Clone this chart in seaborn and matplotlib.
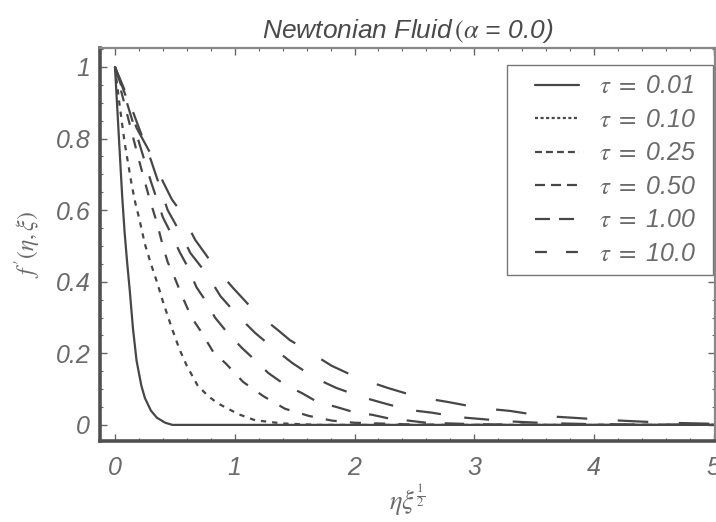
import matplotlib
matplotlib.use("Agg")
import matplotlib.pyplot as plt
from matplotlib.lines import Line2D
from matplotlib.legend_handler import HandlerLine2D
from matplotlib.ticker import MultipleLocator
import seaborn as sns

#%% data: f'(eta, xi) against eta*xi^(1/2)
tau_labels = ['0.01', '0.10', '0.25', '0.50', '1.00', '10.0']

eta_001 = [0, 0.02, 0.04, 0.06, 0.08, 0.10, 0.125, 0.15, 0.18, 0.22, 0.25, 0.30, 0.35, 0.42, 0.48, 1.0, 2.0, 3.0, 4.0, 5.0]
f_001 = [1, 0.88, 0.76, 0.64, 0.54, 0.46, 0.37, 0.27, 0.18, 0.11, 0.075, 0.04, 0.02, 0.006, 0, 0, 0, 0, 0, 0]

eta_010 = [0, 0.04, 0.08, 0.11, 0.14, 0.17, 0.20, 0.25, 0.30, 0.35, 0.40, 0.475, 0.54, 0.60, 0.69, 0.78, 0.86, 1.03, 1.17, 1.4, 1.7, 3.0, 5.0]
f_010 = [1, 0.89, 0.79, 0.73, 0.67, 0.62, 0.58, 0.505, 0.45, 0.40, 0.345, 0.27, 0.21, 0.165, 0.11, 0.08, 0.06, 0.03, 0.013, 0.004, 0, 0, 0]

eta_025 = [0, 0.1, 0.2, 0.29, 0.35, 0.40, 0.44, 0.50, 0.56, 0.60, 0.64, 0.71, 0.75, 0.82, 0.93, 1.07, 1.24, 1.42, 1.62, 1.81, 2.0, 2.5, 3.0, 5.0]
f_025 = [1, 0.87, 0.74, 0.63, 0.565, 0.50, 0.455, 0.41, 0.36, 0.33, 0.30, 0.265, 0.243, 0.204, 0.17, 0.12, 0.08, 0.045, 0.025, 0.012, 0.006, 0.001, 0, 0]

eta_050 = [0, 0.1, 0.2, 0.3, 0.4, 0.475, 0.54, 0.61, 0.68, 0.77, 0.835, 0.94, 1.06, 1.15, 1.28, 1.42, 1.56, 1.69, 1.85, 1.99, 2.15, 2.3, 2.45, 2.6, 3.0, 3.5, 5.0]
f_050 = [1, 0.90, 0.79, 0.68, 0.58, 0.53, 0.483, 0.44, 0.385, 0.34, 0.30, 0.257, 0.215, 0.187, 0.145, 0.112, 0.089, 0.064, 0.05, 0.036, 0.028, 0.017, 0.012, 0.006, 0.002, 0, 0]

eta_100 = [0, 0.1, 0.2, 0.3, 0.44, 0.54, 0.63, 0.77, 0.88, 1.02, 1.17, 1.32, 1.48, 1.67, 1.85, 2.06, 2.24, 2.45, 2.65, 2.86, 3.07, 3.28, 3.6, 4.0, 5.0]
f_100 = [1, 0.92, 0.83, 0.74, 0.60, 0.54, 0.48, 0.42, 0.36, 0.307, 0.257, 0.215, 0.173, 0.131, 0.103, 0.078, 0.061, 0.042, 0.034, 0.022, 0.016, 0.01, 0.005, 0.002, 0]

eta_10 = [0, 0.1, 0.18, 0.31, 0.40, 0.475, 0.54, 0.67, 0.82, 0.985, 1.17, 1.36, 1.46, 1.57, 1.81, 2.03, 2.28, 2.53, 2.78, 3.05, 3.3, 3.57, 3.82, 4.1, 4.34, 4.62, 5.0]
f_10 = [1, 0.91, 0.83, 0.75, 0.68, 0.63, 0.60, 0.517, 0.447, 0.383, 0.316, 0.265, 0.237, 0.215, 0.165, 0.131, 0.103, 0.078, 0.064, 0.047, 0.039, 0.025, 0.02, 0.014, 0.01, 0.006, 0.003]

x_ticks = [0, 1, 2, 3, 4, 5]
x_tick_labels = ['0', '1', '2', '3', '4', '5']
y_ticks = [0, 0.2, 0.4, 0.6, 0.8, 1.0]
y_tick_labels = ['0', '0.2', '0.4', '0.6', '0.8', '1']

#%% styles
sns.set_style('ticks')
plt.rcParams['font.family'] = ['Liberation Sans Narrow', 'Liberation Sans', 'DejaVu Sans']
plt.rcParams['mathtext.fontset'] = 'stix'
plt.rcParams['lines.scale_dashes'] = False

line_col = '#474747'
txt_col = '#6a6a6a'
# dash patterns on the curves (points)
curve_ls = ['-', (0, (3.8, 4.3)), (0, (8, 9.5)), (0, (14, 13.5)), (0, (18, 17)), (0, (22, 22))]
# Mathematica draws shorter dashes in the legend
legend_ls = ['-', (0, (2.2, 1.8)), (0, (5, 2.9)), (0, (7.2, 4.3)), (0, (10.8, 6.5)), (0, (8.6, 13.7))]

curves = [(eta_001, f_001), (eta_010, f_010), (eta_025, f_025),
          (eta_050, f_050), (eta_100, f_100), (eta_10, f_10)]

#%% plot
fig = plt.figure(figsize=(7.16, 5.22), dpi=100)
ax = fig.add_axes([100/716, 1 - 441/522, 615/716, 393/522])

for (xs, ys), ls in zip(curves, curve_ls):
    sns.lineplot(x=xs, y=ys, ax=ax, color=line_col, lw=1.6, linestyle=ls,
                 estimator=None, sort=False, legend=False)

ax.set_xlim(-0.125, 5.01)
ax.set_ylim(-0.045, 1.053)

ax.set_xticks(x_ticks)
ax.set_xticklabels(x_tick_labels, fontstyle='italic', fontsize=18, color=txt_col)
ax.set_yticks(y_ticks)
ax.set_yticklabels(y_tick_labels, fontstyle='italic', fontsize=18, color=txt_col)
ax.xaxis.set_minor_locator(MultipleLocator(0.2))
ax.yaxis.set_minor_locator(MultipleLocator(0.05))
ax.tick_params(which='both', direction='in', top=True, right=True, color='#666666')
ax.tick_params(which='major', length=5, width=1, pad=7)
ax.tick_params(which='minor', length=2.5, width=0.8)
ax.tick_params(axis='x', which='major', pad=11)

for side in ['left', 'bottom']:
    ax.spines[side].set_linewidth(2.6)
    ax.spines[side].set_color('#505050')
for side in ['top', 'right']:
    ax.spines[side].set_linewidth(1.6)
    ax.spines[side].set_color('#888888')

ax.set_xlabel(r'$\eta\xi^{\frac{1}{2}}$', fontsize=19, color=txt_col, labelpad=2)
ax.set_ylabel(r"$f\,'(\eta,\xi)$", fontsize=17, color=txt_col, labelpad=9)
ax.set_title(r'Newtonian Fluid$\,(\alpha$ = 0.0)', fontstyle='italic', fontsize=19,
             color='#4a4a4a', pad=7)

handles = [Line2D([], [], color=line_col, lw=1.6, linestyle=ls) for ls in legend_ls]
labels = [r'$\tau\ =\ $' + t + '  ' for t in tau_labels]
leg = ax.legend(handles, labels, loc='upper right', bbox_to_anchor=(0.9967, 0.957),
                borderaxespad=0, fancybox=False, framealpha=1, edgecolor='#777777',
                handlelength=2.5, handletextpad=0.8, labelspacing=0.38, borderpad=0.38,
                handler_map={Line2D: HandlerLine2D(xpad=0.72)},
                prop={'style': 'italic', 'size': 18}, labelcolor=txt_col)
leg.get_frame().set_linewidth(1.0)

fig.savefig('out.png', dpi=100)
